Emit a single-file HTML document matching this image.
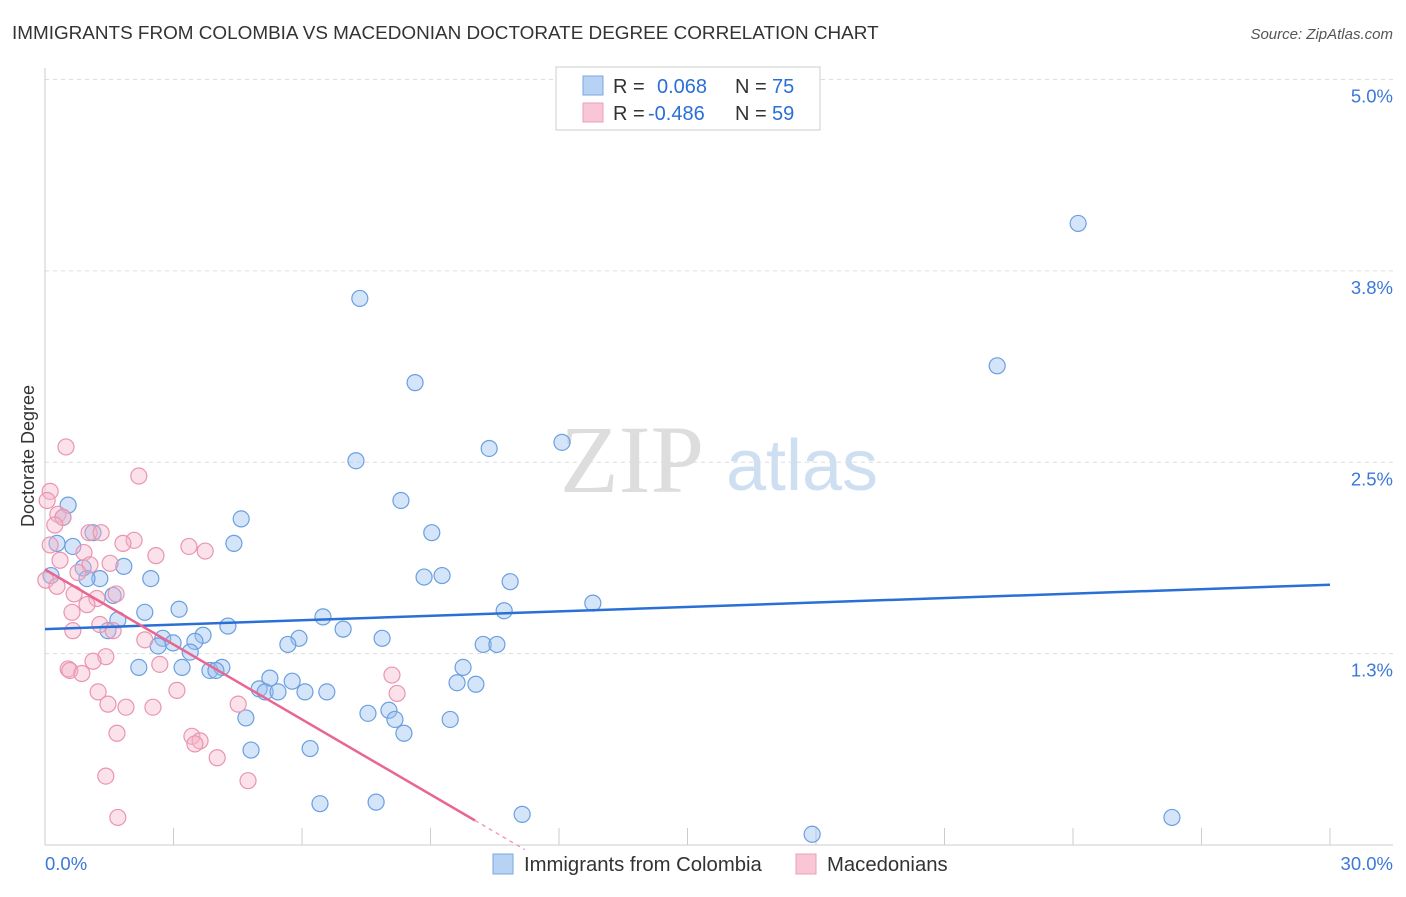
<!DOCTYPE html>
<html><head><meta charset="utf-8"><style>
body{margin:0;background:#fff;font-family:"Liberation Sans",sans-serif;}
</style></head><body>
<svg width="1406" height="892" xmlns="http://www.w3.org/2000/svg" id="chart">
<text x="12" y="39" font-size="18.9" fill="#333">IMMIGRANTS FROM COLOMBIA VS MACEDONIAN DOCTORATE DEGREE CORRELATION CHART</text>
<text x="1393" y="39" font-size="15" fill="#555" font-style="italic" text-anchor="end">Source: ZipAtlas.com</text>
<text x="34" y="456" font-size="18" fill="#333" text-anchor="middle" transform="rotate(-90 34 456)">Doctorate Degree</text>
<g>
<text x="632" y="492" font-size="96" fill="#ddd" font-family="Liberation Serif,serif" text-anchor="middle">ZIP</text>
<text x="802" y="490" font-size="72" fill="#cfdff2" text-anchor="middle">atlas</text>
</g>
<g id="grid"></g><g id="axes"></g><g id="marks"></g>
<g>
<rect x="556" y="67" width="264" height="63" fill="#fff" stroke="#ccc"/>
<rect x="583" y="76" width="20" height="19" fill="#b8d2f4" stroke="#7aa7e0"/>
<rect x="583" y="103" width="20" height="19" fill="#f8c6d4" stroke="#eaa0b8"/>
<text y="93" font-size="20" fill="#333"><tspan x="613">R =</tspan><tspan x="657" fill="#2a6fd6">0.068</tspan><tspan x="735" fill="#333">N =</tspan><tspan x="772" fill="#2a6fd6">75</tspan></text>
<text y="120" font-size="20" fill="#333"><tspan x="613">R =</tspan><tspan x="648" fill="#2a6fd6">-0.486</tspan><tspan x="735" fill="#333">N =</tspan><tspan x="772" fill="#2a6fd6">59</tspan></text>
</g>
<g>
<rect x="493" y="854" width="20" height="20" fill="#b8d2f4" stroke="#7aa7e0"/>
<text x="524" y="871" font-size="20.3" fill="#333">Immigrants from Colombia</text>
<rect x="796" y="854" width="20" height="20" fill="#f8c6d4" stroke="#eaa0b8"/>
<text x="827" y="871" font-size="20.3" fill="#333">Macedonians</text>
</g>
</svg>
<script>
const blueX=[24.12,7.35,22.23,8.64,12.07,10.37,7.26,8.31,0.54,0.42,4.58,9.03,1.12,4.41,0.28,0.65,1.84,0.89,0.14,1.28,0.98,8.85,9.27,10.86,2.47,1.59,12.79,2.33,3.13,6.49,10.72,1.70,4.27,1.47,6.96,2.75,3.69,7.87,3.50,2.99,5.93,5.67,10.23,10.55,2.64,3.39,2.19,3.20,3.85,4.13,3.99,9.76,5.25,5.77,9.62,10.06,5.00,5.14,5.44,6.07,6.58,4.69,7.54,8.03,8.17,9.46,8.38,4.81,6.19,6.42,7.73,11.14,17.91,26.31];
const blueY=[4.06,3.57,3.13,3.02,2.63,2.59,2.51,2.25,2.22,2.14,2.13,2.04,2.04,1.97,1.97,1.95,1.82,1.81,1.76,1.74,1.74,1.75,1.76,1.72,1.74,1.63,1.58,1.52,1.54,1.49,1.53,1.47,1.43,1.40,1.41,1.35,1.37,1.35,1.33,1.32,1.35,1.31,1.31,1.31,1.30,1.26,1.16,1.16,1.14,1.16,1.14,1.16,1.09,1.07,1.06,1.05,1.02,1.00,1.00,1.00,1.00,0.83,0.86,0.88,0.82,0.82,0.73,0.62,0.63,0.27,0.28,0.20,0.07,0.18];
const pinkX=[0.49,2.19,0.12,0.05,0.30,0.42,0.23,1.03,1.31,2.08,1.82,0.12,3.36,3.74,0.91,2.59,0.35,1.52,1.05,0.77,0.02,0.28,0.68,1.21,1.66,0.98,0.63,1.28,0.65,1.59,2.33,1.42,1.12,0.54,0.58,0.86,2.68,8.10,1.24,3.08,8.22,4.51,1.47,1.89,2.52,3.43,3.62,3.50,1.68,4.02,1.42,4.74,1.70];
const pinkY=[2.60,2.41,2.31,2.25,2.16,2.14,2.09,2.04,2.04,1.99,1.97,1.96,1.95,1.92,1.91,1.89,1.86,1.84,1.83,1.78,1.73,1.69,1.64,1.61,1.64,1.57,1.52,1.44,1.40,1.40,1.34,1.23,1.20,1.15,1.14,1.12,1.18,1.11,1.00,1.01,0.99,0.92,0.92,0.90,0.90,0.71,0.68,0.66,0.73,0.57,0.45,0.42,0.18];
const yTicks=[1.25,2.5,3.75,5.0];
const yTickLabels=["1.3%","2.5%","3.8%","5.0%"];
const xTicks=[0,3,6,9,12,15,18,21,24,27,30];
const blueTrend=[[0,1.41],[30,1.70]];
const pinkTrend=[[0,1.80],[10.04,0.16]];
const pinkDash=[[10.04,0.16],[11.2,-0.03]];
const sx=v=>45+v*(1285/30);
const sy=v=>845-v*153.1;
const NS="http://www.w3.org/2000/svg";
function mk(p,t,a){const e=document.createElementNS(NS,t);for(const k in a)e.setAttribute(k,a[k]);p.appendChild(e);return e;}
const grid=document.getElementById('grid'),axes=document.getElementById('axes'),marks=document.getElementById('marks');
yTicks.forEach((v,i)=>{
 const l=mk(grid,'line',{x1:45,x2:1393,y1:sy(v),y2:sy(v),stroke:'#ddd','stroke-dasharray':'4,4'});
 
 
 const t=mk(axes,'text',{x:1393,y:sy(v)+23,'font-size':18.5,fill:'#3b78d8','text-anchor':'end'});
 t.textContent=yTickLabels[i];
 
 
});
const la=mk(axes,'line',{x1:45,x2:45,y1:68,y2:845,stroke:'#ccc'});


const lb=mk(axes,'line',{x1:45,x2:1393,y1:845,y2:845,stroke:'#ccc'});


xTicks.forEach(v=>{
 const l=mk(axes,'line',{x1:sx(v),x2:sx(v),y1:828,y2:845,stroke:'#ccc'});
 
 
});
const x0=mk(axes,'text',{x:45,y:870,'font-size':18.5,fill:'#3b78d8'});x0.textContent='0.0%';


const x1=mk(axes,'text',{x:1393,y:870,'font-size':18.5,fill:'#3b78d8','text-anchor':'end'});x1.textContent='30.0%';


blueX.forEach((v,i)=>{
 const c=mk(marks,'circle',{cx:sx(v),cy:sy(blueY[i]),r:8,fill:'rgba(150,190,240,0.4)',stroke:'#6a9fe0','stroke-width':1.2});
 
 
});
pinkX.forEach((v,i)=>{
 const c=mk(marks,'circle',{cx:sx(v),cy:sy(pinkY[i]),r:8,fill:'rgba(246,180,200,0.4)',stroke:'#ea95b0','stroke-width':1.2});
 
 
});
const bt=mk(marks,'line',{x1:sx(blueTrend[0][0]),y1:sy(blueTrend[0][1]),x2:sx(blueTrend[1][0]),y2:sy(blueTrend[1][1]),stroke:'#2a6fd6','stroke-width':2.5});


const pt=mk(marks,'line',{x1:sx(pinkTrend[0][0]),y1:sy(pinkTrend[0][1]),x2:sx(pinkTrend[1][0]),y2:sy(pinkTrend[1][1]),stroke:'#e8668f','stroke-width':2.5});


const pd=mk(marks,'line',{x1:sx(pinkDash[0][0]),y1:sy(pinkDash[0][1]),x2:sx(pinkDash[1][0]),y2:sy(pinkDash[1][1]),stroke:'#f0a0b8','stroke-width':1.5,'stroke-dasharray':'4,4'});


</script>
</body></html>
